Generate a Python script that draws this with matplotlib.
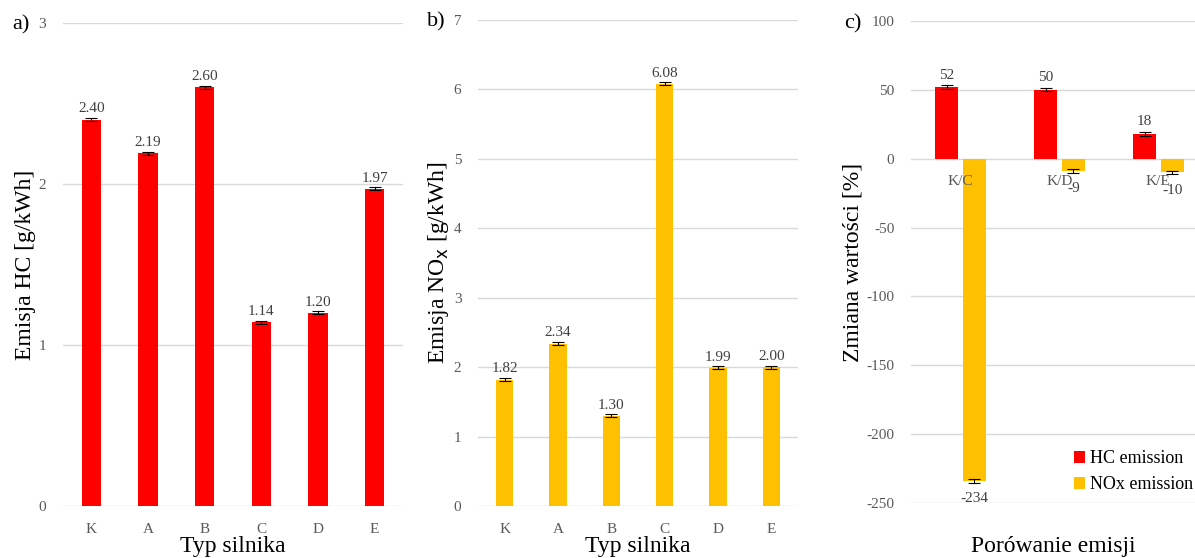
import numpy as np
import matplotlib.pyplot as plt

plt.rcParams['font.family'] = ['Liberation Serif', 'DejaVu Serif']
plt.rcParams['axes.unicode_minus'] = False

# panel a / b data
engines = ['K', 'A', 'B', 'C', 'D', 'E']
hc = [2.40, 2.19, 2.60, 1.14, 1.20, 1.97]
hc_err = [0.01, 0.01, 0.01, 0.01, 0.01, 0.01]
nox = [1.82, 2.34, 1.30, 6.08, 1.99, 2.00]
nox_err = [0.02, 0.02, 0.02, 0.02, 0.02, 0.02]

# panel c data
pairs = ['K/C', 'K/D', 'K/E']
hc_change = [52, 50, 18]
hc_change_err = [1.2, 1.2, 1.2]
nox_change = [-234, -9, -10]
nox_change_err = [1.2, 1.2, 1.2]

RED = '#ff0000'
YEL = '#ffc000'
GRID = '#d9d9d9'
TICK = '#595959'

fig = plt.figure(figsize=(11.95, 5.58), dpi=100)
ax1 = fig.add_axes([0.0527, 0.0932, 0.2845, 0.8656])
ax2 = fig.add_axes([0.4000, 0.0932, 0.2678, 0.8710])
ax3 = fig.add_axes([0.7623, 0.0986, 0.2377, 0.8638])


def style(ax):
    for s in ax.spines.values():
        s.set_visible(False)
    ax.set_axisbelow(True)
    ax.grid(axis='y', color=GRID, lw=1.0)
    ax.tick_params(length=0, colors=TICK, labelsize=11)
    ax.tick_params(axis='y', pad=12)


def bar_panel(ax, vals, errs, color, ymax, width):
    x = np.arange(len(engines))
    ax.bar(x, vals, width=width, color=color, yerr=errs,
           error_kw=dict(ecolor='black', elinewidth=0.8, capsize=4, capthick=0.8))
    for xi, v in zip(x, vals):
        ax.annotate(f'{v:.2f}', (xi, v), xytext=(0, 3), textcoords='offset points',
                    ha='center', va='bottom', fontsize=11, color='#404040')
    ax.set_xticks(x)
    ax.set_xticklabels(engines)
    ax.tick_params(axis='x', pad=12)
    ax.set_xlim(-0.5, len(engines) - 0.5)
    ax.set_ylim(0, ymax)
    ax.set_yticks(range(0, ymax + 1))
    style(ax)


bar_panel(ax1, hc, hc_err, RED, 3, 0.34)
ax1.set_ylabel('Emisja HC [g/kWh]', fontsize=17, labelpad=2)
ax1.set_xlabel('Typ silnika', fontsize=17, labelpad=0)

bar_panel(ax2, nox, nox_err, YEL, 7, 0.32)
ax2.set_ylabel('Emisja NO$_{\\mathrm{x}}$ [g/kWh]', fontsize=17, labelpad=2)
ax2.set_xlabel('Typ silnika', fontsize=17, labelpad=0)

# panel c
xc = np.arange(len(pairs))
w = 0.23
off = 0.14
ek = dict(ecolor='black', elinewidth=0.8, capsize=4, capthick=0.8)
ax3.bar(xc - off, hc_change, width=w, color=RED, yerr=hc_change_err, error_kw=ek,
        label='HC emission')
ax3.bar(xc + off, nox_change, width=w, color=YEL, yerr=nox_change_err, error_kw=ek,
        label='NOx emission')
for xi, v in zip(xc, hc_change):
    ax3.annotate(f'{v}', (xi - off, v), xytext=(0, 4), textcoords='offset points',
                 ha='center', va='bottom', fontsize=11, color='#404040')
for xi, v in zip(xc, nox_change):
    ax3.annotate(f'{v}', (xi + off, v), xytext=(0, -8), textcoords='offset points',
                 ha='center', va='top', fontsize=11, color='#404040')
for xi, p in zip(xc, pairs):
    ax3.annotate(p, (xi, 0), xytext=(0, -12), textcoords='offset points',
                 ha='center', va='top', fontsize=11, color=TICK)
ax3.set_xticks([])
ax3.set_xlim(-0.5, 2.37)
ax3.set_ylim(-250, 100)
ax3.set_yticks(range(-250, 101, 50))
style(ax3)
ax3.set_ylabel('Zmiana wartości [%]', fontsize=17, labelpad=2)
ax3.set_xlabel('Porówanie emisji', fontsize=17, labelpad=24)
ax3.legend(loc='lower right', bbox_to_anchor=(1.02, 0.005), frameon=False, fontsize=13,
           handlelength=0.6, handleheight=0.6, handletextpad=0.3, labelspacing=0.5,
           borderaxespad=0)

fig.text(0.010, 0.955, 'a)', fontsize=16, va='center')
fig.text(0.357, 0.960, 'b)', fontsize=16, va='center')
fig.text(0.706, 0.958, 'c)', fontsize=16, va='center')

fig.savefig('out.png', dpi=100)
